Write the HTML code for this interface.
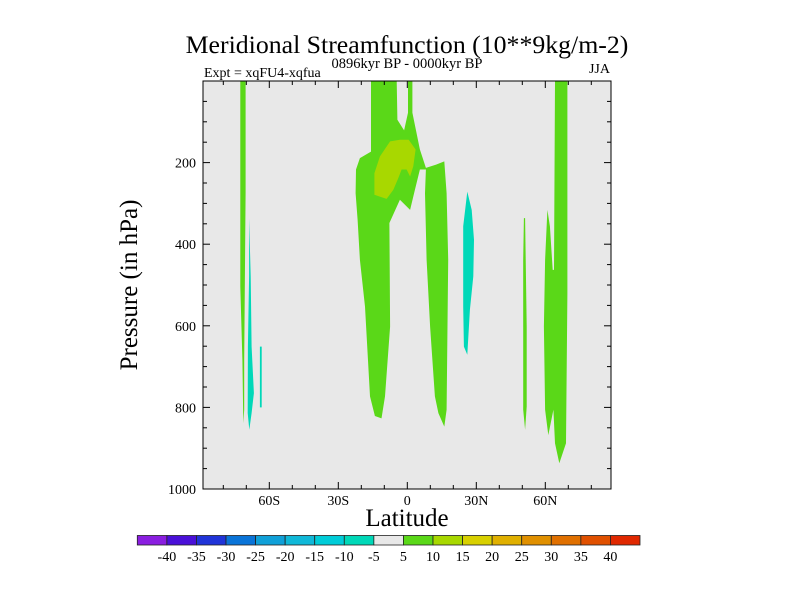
<!DOCTYPE html>
<html><head><meta charset="utf-8"><style>
body{margin:0;background:#fff;}
svg{display:block;font-family:"Liberation Serif",serif;}
</style></head><body>
<svg id="c" width="800" height="600" xmlns="http://www.w3.org/2000/svg">
<text x="407" y="53" font-size="25.8" text-anchor="middle">Meridional Streamfunction (10**9kg/m-2)</text>
<text x="204" y="77" font-size="14">Expt = xqFU4-xqfua</text>
<text x="407" y="68" font-size="14.5" text-anchor="middle">0896kyr BP - 0000kyr BP</text>
<text x="610" y="73" font-size="14" text-anchor="end">JJA</text>
<rect x="203" y="81" width="408" height="408" fill="#e8e8e8"/>
<g id="shapes"></g>
<rect x="203" y="81" width="408" height="408" fill="none" stroke="#000" stroke-width="1"/>
<g id="ticks"></g>
<text transform="translate(137,285) rotate(-90)" font-size="25" text-anchor="middle">Pressure (in hPa)</text>
<text x="407" y="526" font-size="25" text-anchor="middle">Latitude</text>
<g id="cbar"></g>
</svg>
<script>
const latTicks=[-60,-30,0,30,60];
const latLabels=["60S","30S","0","30N","60N"];
const presTicks=[200,400,600,800,1000];
const levels=[-40,-35,-30,-25,-20,-15,-10,-5,5,10,15,20,25,30,35,40];
const levelColors=["#8a1ee0","#4a10d8","#2034d8","#0a74d8","#10a0d8","#10b8d8","#00ccd8","#00d8b8","#e8e8e8","#5ad818","#a8d800","#d8d000","#e0b000","#e09000","#e07000","#e05000","#e02800"];
const regionA=[[-72.6,0],[-70.3,0],[-70.3,275],[-70.9,684],[-70.9,806],[-71.3,839],[-71.7,684],[-72.6,504]];
const regionB=[[-68.8,336],[-68.1,479],[-67.7,651],[-66.7,765],[-67.7,814],[-68.7,855],[-69.4,814],[-69.3,651],[-68.8,479]];
const regionC=[[-64.1,651],[-63.3,651],[-63.3,800],[-64.1,800]];
const regionD=[[-15.8,0],[-4.6,0],[-4.3,95],[-1.4,121],[0.3,78],[0.3,0],[2.2,0],[2.2,78],[5.5,168],[8.1,213],[12.5,205],[16.1,197],[17.1,275],[17.8,438],[17.1,806],[16.1,847],[13.5,814],[12.0,773],[9.9,602],[8.4,438],[7.7,275],[8.1,217],[5.5,217],[3.3,267],[1.2,316],[-3.2,291],[-7.8,348],[-7.5,602],[-9.7,773],[-11.2,827],[-14.1,821],[-16.2,773],[-18.4,553],[-20.6,438],[-21.6,340],[-22.5,275],[-22.3,217],[-20.6,189],[-15.8,173]];
const regionE=[[-11.9,185],[-7.5,148],[-3.2,144],[0.6,144],[3.6,168],[2.6,209],[1.2,234],[-0.3,217],[-2.5,217],[-3.9,238],[-6.1,267],[-9.0,289],[-14.3,279],[-14.3,226]];
const regionF=[[26.1,271],[28.0,316],[29.0,389],[28.7,479],[27.2,561],[26.1,671],[24.6,651],[24.3,553],[24.3,356]];
const regionG=[[50.7,336],[51.2,336],[51.9,602],[51.9,798],[51.2,855],[50.4,806],[50.4,438]];
const regionH=[[60.9,316],[62.0,356],[63.2,463],[63.8,463],[64.2,0],[69.6,0],[69.6,520],[69.0,888],[66.1,937],[64.2,888],[63.5,806],[61.3,868],[59.9,806],[59.4,602],[59.9,438]];
const regions=[[regionA,9],[regionB,7],[regionC,7],[regionD,9],[regionE,10],[regionF,7],[regionG,9],[regionH,9]];
const regionNames=["region-a","region-b","region-c","region-d","region-e","region-f","region-g","region-h"];
const NS="http://www.w3.org/2000/svg";
function xs(lat){return 407.3+lat*2.3;}
function ys(p){return 81+p*0.408;}
const sg=document.getElementById('shapes');
regions.forEach((r,i)=>{
  const el=document.createElementNS(NS,'polygon');
  el.setAttribute('points',r[0].map(q=>xs(q[0]).toFixed(1)+','+ys(q[1]).toFixed(1)).join(' '));
  el.setAttribute('fill',levelColors[r[1]]);
  
  
  sg.appendChild(el);
});
const tg=document.getElementById('ticks');
function line(x1,y1,x2,y2){const l=document.createElementNS(NS,'line');l.setAttribute('x1',x1);l.setAttribute('y1',y1);l.setAttribute('x2',x2);l.setAttribute('y2',y2);l.setAttribute('stroke','#000');l.setAttribute('stroke-width','1');


tg.appendChild(l);}
for(let lat=-80;lat<=80;lat+=10){const major=lat%30===0;const len=major?7:4;const x=xs(lat);line(x,489,x,489-len);line(x,81,x,81+len);}
for(let p=50;p<1000;p+=50){const major=p%200===0;const len=major?7:4;const y=ys(p);line(203,y,203+len,y);line(611,y,611-len,y);}
latTicks.forEach((v,i)=>{const t=document.createElementNS(NS,'text');t.setAttribute('x',xs(v));t.setAttribute('y',505);t.setAttribute('font-size','14');t.setAttribute('text-anchor','middle');t.textContent=latLabels[i];


tg.appendChild(t);});
presTicks.forEach(v=>{const t=document.createElementNS(NS,'text');t.setAttribute('x',196);t.setAttribute('y',ys(v)+5);t.setAttribute('font-size','14');t.setAttribute('text-anchor','end');t.textContent=v;


tg.appendChild(t);});
const cg=document.getElementById('cbar');
const bx=137.3,bw=(640-137.3)/levelColors.length;
levelColors.forEach((c,i)=>{const r=document.createElementNS(NS,'rect');r.setAttribute('x',bx+i*bw);r.setAttribute('y',535.5);r.setAttribute('width',bw);r.setAttribute('height',9.5);r.setAttribute('fill',c);r.setAttribute('stroke','#222');r.setAttribute('stroke-width','0.8');


cg.appendChild(r);});
levels.forEach((v,i)=>{const t=document.createElementNS(NS,'text');t.setAttribute('x',bx+(i+1)*bw);t.setAttribute('y',561);t.setAttribute('font-size','14');t.setAttribute('text-anchor','middle');t.textContent=v;


cg.appendChild(t);});
</script>
</body></html>
